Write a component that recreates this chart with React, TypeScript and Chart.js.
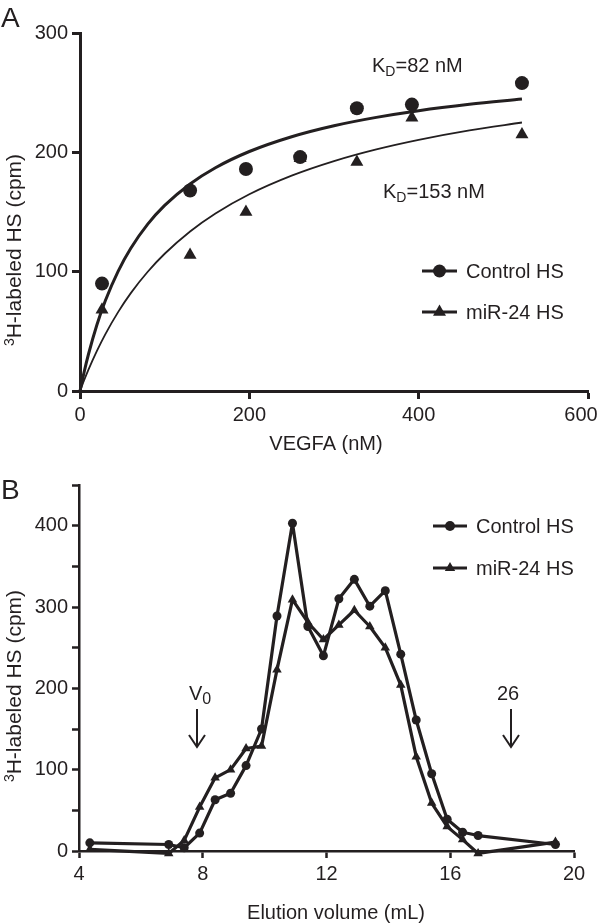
import React, { useEffect, useRef } from 'react';
import { Chart, registerables } from 'chart.js';

Chart.register(...registerables);

const INK = '#231f20';
const FONT = '"Liberation Sans", Arial, Helvetica, sans-serif';

// ---------- Panel A: saturation binding ----------
const vegfaConc = [26, 130, 196, 260, 327, 392, 522];
const controlBinding = [90, 168, 186, 196, 237, 240, 258];
const mir24Binding = [68, 114, 150, 195, 192, 229, 215];

// fitted hyperbola curves
const fitConc = [0, 5, 10, 20, 30, 45, 60, 80, 100, 130, 160, 200, 250, 300, 350, 400, 460, 522];
const controlFit = [0, 16.3, 30.8, 55.5, 75.8, 100.3, 119.6, 139.8, 155.5, 173.5, 187.1, 200.7, 213.1, 222.3, 229.3, 234.9, 240.2, 244.6];
const mir24Fit = [0, 9.2, 17.9, 33.6, 47.7, 66.1, 82.0, 99.9, 115.0, 133.7, 148.8, 164.9, 180.5, 192.7, 202.5, 210.5, 218.4, 225.0];

const aXRange = [0, 600, 200]; // min, max, step
const aYRange = [0, 300, 100];

// ---------- Panel B: gel filtration ----------
const elutionVolume = [4.35, 6.9, 7.4, 7.9, 8.4, 8.9, 9.4, 9.9, 10.4, 10.9, 11.4, 11.9, 12.4, 12.9, 13.4, 13.9, 14.4, 14.9, 15.4, 15.9, 16.4, 16.9, 19.4];
const controlElution = [10, 8, 4, 22, 63, 71, 105, 150, 289, 403, 276, 240, 310, 334, 301, 320, 242, 161, 95, 39, 23, 19, 8];
const mir24Elution = [2, -3, 13, 54, 90, 100, 126, 129, 223, 309, 281, 260, 278, 296, 276, 250, 204, 116, 59, 30, 14, -3, 11];

const bXRange = [4, 20, 4];
const bYRange = [0, 450, 50];
const bYLabelEvery = 100;

const seriesNames = ['Control HS', 'miR-24 HS'];

function pts(xs: number[], ys: number[]) {
  return xs.map((x, i) => ({ x, y: ys[i] }));
}

function setFont(ctx: CanvasRenderingContext2D, size: number) {
  ctx.font = `${size}px ${FONT}`;
}

function txt(ctx: CanvasRenderingContext2D, s: string, x: number, y: number, size: number, align: CanvasTextAlign = 'left') {
  setFont(ctx, size);
  ctx.textAlign = align;
  ctx.textBaseline = 'alphabetic';
  ctx.fillText(s, x, y);
  return ctx.measureText(s).width;
}

function subText(ctx: CanvasRenderingContext2D, x: number, y: number, main: string, sub: string, rest: string, subSize = 14) {
  let w = txt(ctx, main, x, y, 20);
  w += txt(ctx, sub, x + w, y + 4, subSize);
  if (rest) txt(ctx, rest, x + w, y, 20);
}

function yTitle(ctx: CanvasRenderingContext2D, x: number, cy: number) {
  ctx.save();
  ctx.translate(x, cy);
  ctx.rotate(-Math.PI / 2);
  setFont(ctx, 14);
  const w1 = ctx.measureText('3').width;
  setFont(ctx, 21);
  const w2 = ctx.measureText('H-labeled HS (cpm)').width;
  const start = -(w1 + w2) / 2;
  txt(ctx, '3', start, -7, 14);
  txt(ctx, 'H-labeled HS (cpm)', start + w1, 0, 21);
  ctx.restore();
}

function marker(ctx: CanvasRenderingContext2D, style: string, x: number, y: number, r: number) {
  ctx.beginPath();
  if (style === 'circle') {
    ctx.arc(x, y, r, 0, Math.PI * 2);
  } else {
    ctx.moveTo(x, y - r);
    ctx.lineTo(x + r * Math.sin((2 * Math.PI) / 3), y + r * 0.5);
    ctx.lineTo(x - r * Math.sin((2 * Math.PI) / 3), y + r * 0.5);
    ctx.closePath();
  }
  ctx.fill();
}

function legendRow(ctx: CanvasRenderingContext2D, x1: number, x2: number, cy: number, style: string, r: number, label: string, tx: number) {
  ctx.strokeStyle = INK;
  ctx.lineWidth = 3;
  ctx.beginPath();
  ctx.moveTo(x1, cy);
  ctx.lineTo(x2, cy);
  ctx.stroke();
  marker(ctx, style, (x1 + x2) / 2, cy, r);
  txt(ctx, label, tx, cy + 7, 20);
}

function arrow(ctx: CanvasRenderingContext2D, x: number, y1: number, y2: number) {
  ctx.strokeStyle = INK;
  ctx.lineWidth = 2;
  ctx.beginPath();
  ctx.moveTo(x, y1);
  ctx.lineTo(x, y2);
  ctx.moveTo(x - 8, y2 - 12);
  ctx.lineTo(x, y2);
  ctx.lineTo(x + 8, y2 - 12);
  ctx.stroke();
}

function makeAxis(range: number[], opts: any) {
  return {
    type: 'linear',
    min: range[0],
    max: range[1],
    ticks: {
      stepSize: range[2],
      color: opts.tickColor || INK,
      font: { family: FONT, size: 20 },
      padding: 4,
      maxRotation: 0,
      autoSkip: false,
      callback: opts.callback,
    },
    grid: {
      display: true,
      drawOnChartArea: false,
      drawTicks: true,
      tickLength: opts.tickLength,
      tickWidth: opts.lineWidth,
      tickColor: INK,
    },
    border: { display: true, color: INK, width: opts.lineWidth },
    afterFit: opts.afterFit,
  };
}

function configA() {
  const plugin = {
    id: 'annA',
    afterDraw(chart: any) {
      const ctx = chart.ctx as CanvasRenderingContext2D;
      ctx.save();
      ctx.fillStyle = INK;
      txt(ctx, 'A', 1, 27, 28);
      yTitle(ctx, 21, 250);
      txt(ctx, 'VEGFA (nM)', 326, 450, 20, 'center');
      // last x tick label kept inside the picture (as in the original)
      const xs = chart.scales.x;
      const lastVal = aXRange[1];
      txt(ctx, String(lastVal), Math.min(xs.getPixelForValue(lastVal), 600 - 19), 421, 20, 'center');
      subText(ctx, 372, 72, 'K', 'D', '=82 nM');
      subText(ctx, 383, 198, 'K', 'D', '=153 nM');
      legendRow(ctx, 422, 457, 271, 'circle', 6.5, seriesNames[0], 466);
      legendRow(ctx, 422, 457, 312, 'triangle', 7.5, seriesNames[1], 466);
      ctx.restore();
    },
  };
  return {
    type: 'line',
    data: {
      datasets: [
        {
          label: seriesNames[0],
          data: pts(vegfaConc, controlBinding),
          showLine: false,
          pointStyle: 'circle',
          pointRadius: 7,
          pointBorderWidth: 0,
          pointBackgroundColor: INK,
          pointBorderColor: INK,
          clip: false,
        },
        {
          label: seriesNames[1],
          data: pts(vegfaConc, mir24Binding),
          showLine: false,
          pointStyle: 'triangle',
          pointRadius: 7.5,
          pointBorderWidth: 0,
          pointBackgroundColor: INK,
          pointBorderColor: INK,
          clip: false,
        },
        {
          label: 'Control fit',
          data: pts(fitConc, controlFit),
          borderColor: INK,
          borderWidth: 3,
          pointRadius: 0,
          cubicInterpolationMode: 'monotone',
          fill: false,
          clip: false,
        },
        {
          label: 'miR-24 fit',
          data: pts(fitConc, mir24Fit),
          borderColor: INK,
          borderWidth: 1.8,
          pointRadius: 0,
          cubicInterpolationMode: 'monotone',
          fill: false,
          clip: false,
        },
      ],
    },
    options: {
      responsive: false,
      animation: false,
      devicePixelRatio: 1,
      events: [],
      layout: { padding: { left: 0, top: 33, right: 12, bottom: 0 } },
      plugins: { legend: { display: false }, tooltip: { enabled: false }, title: { display: false } },
      scales: {
        x: makeAxis(aXRange, {
          tickLength: 8,
          lineWidth: 3,
          tickColor: (c: any) => (c.tick && c.tick.value === aXRange[1] ? 'rgba(0,0,0,0)' : INK),
          afterFit: (s: any) => {
            s.height = 79;
            s.paddingLeft = 0;
            s.paddingRight = 0;
          },
        }),
        y: makeAxis(aYRange, {
          tickLength: 8,
          lineWidth: 3,
          afterFit: (s: any) => {
            s.width = 80;
            s.paddingTop = 0;
            s.paddingBottom = 0;
          },
        }),
      },
    },
    plugins: [plugin],
  };
}

function configB() {
  const plugin = {
    id: 'annB',
    afterDraw(chart: any) {
      const ctx = chart.ctx as CanvasRenderingContext2D;
      ctx.save();
      ctx.fillStyle = INK;
      txt(ctx, 'B', 1, 29, 28);
      yTitle(ctx, 21, 216);
      txt(ctx, 'Elution volume (mL)', 336, 449, 20, 'center');
      legendRow(ctx, 433, 467, 56, 'circle', 5, seriesNames[0], 476);
      legendRow(ctx, 433, 467, 98, 'triangle', 6, seriesNames[1], 476);
      subText(ctx, 189, 230, 'V', '0', '', 16);
      arrow(ctx, 197, 239, 277);
      txt(ctx, '26', 497, 230, 20);
      arrow(ctx, 511, 239, 277);
      ctx.restore();
    },
  };
  const common = {
    borderColor: INK,
    borderWidth: 3.2,
    borderJoinStyle: 'round',
    borderCapStyle: 'round',
    pointBorderWidth: 0,
    pointBackgroundColor: INK,
    pointBorderColor: INK,
    tension: 0,
    fill: false,
    clip: false,
  };
  return {
    type: 'line',
    data: {
      datasets: [
        { ...common, label: seriesNames[0], data: pts(elutionVolume, controlElution), pointStyle: 'circle', pointRadius: 4.5 },
        { ...common, label: seriesNames[1], data: pts(elutionVolume, mir24Elution), pointStyle: 'triangle', pointRadius: 5.5 },
      ],
    },
    options: {
      responsive: false,
      animation: false,
      devicePixelRatio: 1,
      events: [],
      layout: { padding: { left: 0, top: 15, right: 26, bottom: 0 } },
      plugins: { legend: { display: false }, tooltip: { enabled: false }, title: { display: false } },
      scales: {
        x: makeAxis(bXRange, {
          tickLength: 7,
          lineWidth: 2.5,
          afterFit: (s: any) => {
            s.height = 73;
            s.paddingLeft = 0;
            s.paddingRight = 0;
          },
        }),
        y: makeAxis(bYRange, {
          tickLength: 7,
          lineWidth: 2.5,
          callback: (v: number) => (v % bYLabelEvery === 0 ? String(v) : ''),
          afterFit: (s: any) => {
            s.width = 79;
            s.paddingTop = 0;
            s.paddingBottom = 0;
          },
        }),
      },
    },
    plugins: [plugin],
  };
}

function ChartCanvas({ make, width, height, top }: { make: () => any; width: number; height: number; top: number }) {
  const ref = useRef<HTMLCanvasElement | null>(null);
  useEffect(() => {
    if (!ref.current) return;
    const chart = new Chart(ref.current, make());
    return () => chart.destroy();
  }, [make]);
  return (
    <canvas
      ref={ref}
      width={width}
      height={height}
      style={{ position: 'absolute', left: 0, top, width, height, display: 'block' }}
    />
  );
}

export default function App() {
  return (
    <div style={{ position: 'absolute', left: 0, top: 0, width: 600, height: 924, background: '#fff', overflow: 'hidden' }}>
      <ChartCanvas make={configA} width={600} height={470} top={0} />
      <ChartCanvas make={configB} width={600} height={454} top={470} />
    </div>
  );
}
